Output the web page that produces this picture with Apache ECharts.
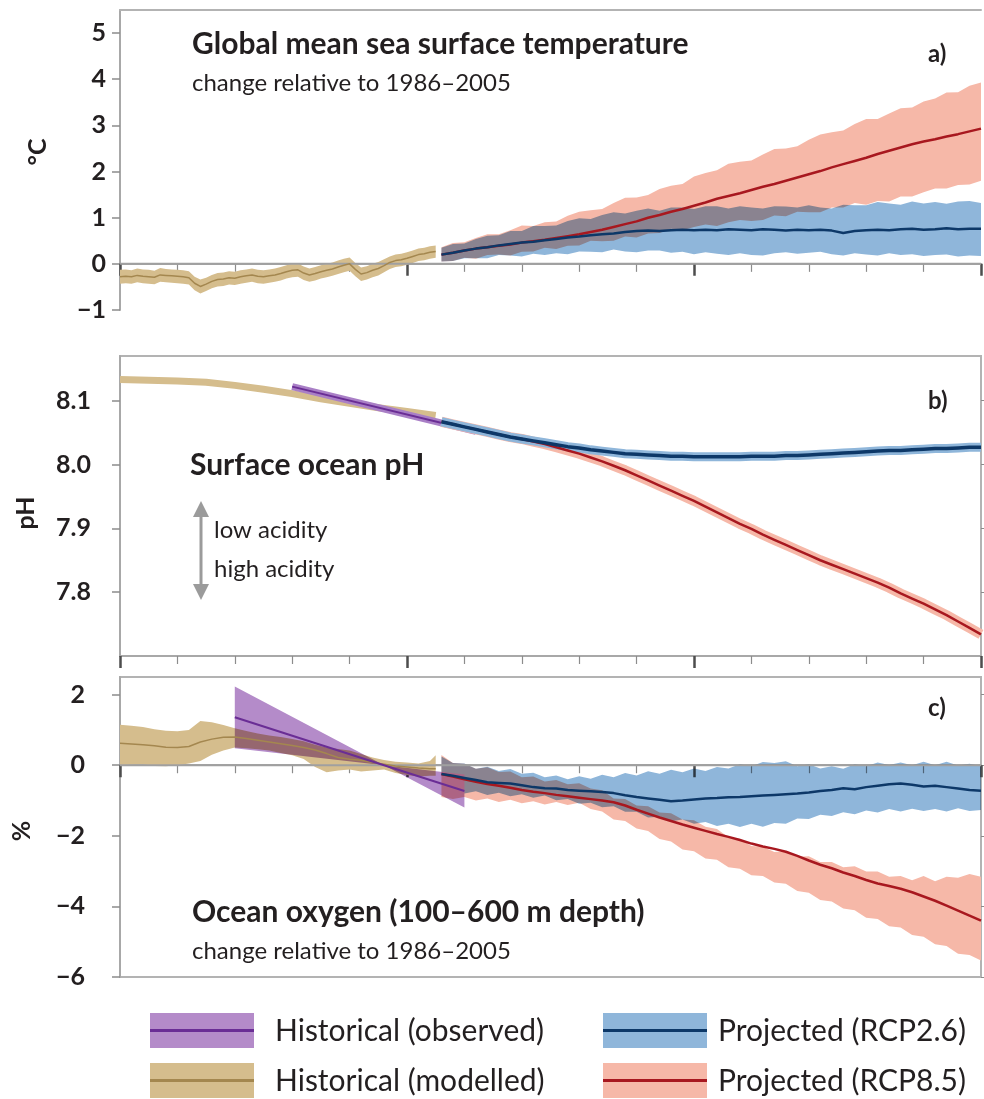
<!DOCTYPE html>
<html>
<head>
<meta charset="utf-8">
<script src="https://cdn.jsdelivr.net/npm/echarts@6/dist/echarts.min.js"></script>
<style>
  html, body { margin: 0; padding: 0; background: #ffffff; }
  #chart { width: 984px; height: 1099px; }
</style>
</head>
<body>
<div id="chart"></div>
<script>
// ---------- x values ----------
const histYears = [
  1950,1951,1952,1953,1954,1955,1956,1957,1958,1959,
  1960,1961,1962,1963,1964,1965,1966,1967,1968,1969,
  1970,1971,1972,1973,1974,1975,1976,1977,1978,1979,
  1980,1981,1982,1983,1984,1985,1986,1987,1988,1989,
  1990,1991,1992,1993,1994,1995,1996,1997,1998,1999,
  2000,2001,2002,2003,2004,2005
];
const projYears = [
  2006,2008,2010,2012,2014,2016,2018,2020,2022,2024,
  2026,2028,2030,2032,2034,2036,2038,2040,2042,2044,
  2046,2048,2050,2052,2054,2056,2058,2060,2062,2064,
  2066,2068,2070,2072,2074,2076,2078,2080,2082,2084,
  2086,2088,2090,2092,2094,2096,2098,2100
];

// ---------- a) sea surface temperature change (°C) ----------
const sstHistMean = [
  -0.28,-0.27,-0.28,-0.25,-0.27,-0.28,-0.29,-0.24,-0.25,-0.26,
  -0.27,-0.28,-0.30,-0.42,-0.49,-0.44,-0.38,-0.34,-0.33,-0.30,
  -0.31,-0.28,-0.26,-0.24,-0.27,-0.28,-0.26,-0.24,-0.21,-0.17,
  -0.14,-0.13,-0.20,-0.24,-0.21,-0.17,-0.14,-0.11,-0.07,-0.03,
   0.00,-0.12,-0.22,-0.19,-0.14,-0.10,-0.04, 0.03, 0.07, 0.09,
   0.12, 0.16, 0.20, 0.22, 0.25, 0.27
];
const sstHistHigh = [
  -0.13,-0.12,-0.14,-0.10,-0.12,-0.13,-0.15,-0.09,-0.11,-0.12,
  -0.13,-0.14,-0.16,-0.28,-0.34,-0.30,-0.24,-0.20,-0.19,-0.16,
  -0.17,-0.14,-0.12,-0.10,-0.13,-0.14,-0.12,-0.10,-0.07,-0.03,
   0.00, 0.01,-0.06,-0.10,-0.07,-0.03, 0.00, 0.03, 0.07, 0.11,
   0.14, 0.02,-0.08,-0.05, 0.00, 0.04, 0.10, 0.16, 0.20, 0.22,
   0.25, 0.29, 0.33, 0.35, 0.38, 0.40
];
const sstHistLow = [
  -0.43,-0.42,-0.43,-0.40,-0.42,-0.43,-0.44,-0.39,-0.40,-0.41,
  -0.42,-0.43,-0.45,-0.57,-0.64,-0.59,-0.53,-0.49,-0.48,-0.45,
  -0.46,-0.43,-0.41,-0.39,-0.42,-0.43,-0.41,-0.39,-0.36,-0.32,
  -0.29,-0.28,-0.35,-0.39,-0.36,-0.32,-0.29,-0.26,-0.22,-0.18,
  -0.15,-0.27,-0.37,-0.34,-0.29,-0.25,-0.18,-0.11,-0.07,-0.05,
  -0.02, 0.02, 0.06, 0.08, 0.11, 0.13
];
const sst85Mean = [
  0.20,0.24,0.29,0.33,0.36,0.39,0.42,0.46,0.49,0.52,
  0.56,0.60,0.64,0.69,0.74,0.80,0.86,0.92,1.00,1.06,
  1.13,1.19,1.26,1.33,1.41,1.47,1.53,1.60,1.67,1.73,
  1.80,1.87,1.94,2.01,2.09,2.16,2.23,2.30,2.38,2.45,
  2.52,2.59,2.65,2.70,2.76,2.81,2.87,2.93
];
const sst85High = [
  0.36,0.45,0.47,0.56,0.64,0.64,0.73,0.83,0.82,0.90,
  0.92,1.04,1.13,1.16,1.19,1.32,1.43,1.44,1.49,1.62,
  1.69,1.73,1.89,1.97,2.03,2.17,2.21,2.24,2.37,2.49,
  2.50,2.55,2.69,2.80,2.85,2.89,3.03,3.14,3.14,3.26,
  3.37,3.39,3.52,3.58,3.71,3.72,3.86,3.93
];
const sst85Low = [
  0.05,0.06,0.13,0.11,0.19,0.20,0.18,0.26,0.27,0.35,
  0.32,0.39,0.40,0.50,0.49,0.50,0.59,0.57,0.66,0.67,
  0.76,0.73,0.80,0.85,0.82,0.90,0.95,0.93,0.95,1.05,
  1.03,1.13,1.12,1.12,1.22,1.22,1.32,1.28,1.36,1.35,
  1.46,1.46,1.55,1.63,1.63,1.71,1.72,1.80
];
const sst26Mean = [
  0.20,0.24,0.29,0.33,0.36,0.40,0.43,0.46,0.48,0.51,
  0.54,0.57,0.59,0.62,0.64,0.66,0.69,0.71,0.72,0.71,
  0.73,0.74,0.73,0.74,0.73,0.75,0.74,0.73,0.75,0.74,
  0.72,0.74,0.73,0.74,0.72,0.67,0.71,0.73,0.74,0.73,
  0.75,0.76,0.74,0.75,0.77,0.75,0.76,0.76
];
const sst26High = [
  0.35,0.43,0.44,0.54,0.61,0.62,0.71,0.71,0.82,0.82,
  0.83,0.93,0.99,0.97,1.06,1.12,1.09,1.15,1.20,1.15,
  1.22,1.22,1.19,1.25,1.25,1.20,1.25,1.22,1.20,1.25,
  1.24,1.22,1.27,1.22,1.20,1.28,1.27,1.27,1.34,1.31,
  1.28,1.35,1.31,1.34,1.30,1.35,1.36,1.32
];
const sst26Low = [
  0.05,0.06,0.12,0.12,0.12,0.19,0.18,0.16,0.22,0.19,
  0.23,0.21,0.27,0.26,0.25,0.31,0.27,0.25,0.29,0.29,
  0.24,0.26,0.21,0.25,0.22,0.19,0.23,0.19,0.18,0.23,
  0.25,0.22,0.24,0.26,0.21,0.18,0.23,0.20,0.18,0.23,
  0.19,0.21,0.17,0.19,0.20,0.16,0.18,0.17
];

// ---------- b) surface ocean pH ----------
const phHistYears = [1950,1955,1960,1965,1970,1975,1980,1985,1990,1995,2000,2005];
const phHist = [8.133,8.132,8.131,8.129,8.124,8.118,8.111,8.103,8.096,8.089,8.083,8.077];
const phObsYears = [1980, 2012];
const phObs = [8.122, 8.052];
const ph85 = [
  8.067,8.063,8.059,8.055,8.051,8.047,8.043,8.040,8.036,8.032,
  8.027,8.022,8.017,8.011,8.005,7.998,7.991,7.983,7.975,7.967,
  7.959,7.951,7.943,7.934,7.925,7.916,7.907,7.899,7.890,7.882,
  7.874,7.866,7.858,7.850,7.843,7.836,7.829,7.822,7.815,7.807,
  7.798,7.790,7.782,7.773,7.764,7.754,7.744,7.734
];
const ph26 = [
  8.067,8.063,8.059,8.055,8.051,8.047,8.043,8.040,8.037,8.034,
  8.031,8.028,8.026,8.023,8.021,8.019,8.017,8.016,8.015,8.014,
  8.013,8.013,8.012,8.012,8.012,8.012,8.012,8.013,8.013,8.013,
  8.014,8.014,8.015,8.016,8.017,8.018,8.019,8.020,8.021,8.022,
  8.022,8.023,8.024,8.025,8.025,8.026,8.027,8.027
];

// ---------- c) ocean oxygen 100–600 m (%) ----------
const o2HistYears = [
  1950,1952,1954,1956,1958,1960,1962,1964,1966,1968,
  1970,1972,1974,1976,1978,1980,1982,1984,1986,1988,
  1990,1992,1994,1996,1998,2000,2002,2004,2005
];
const o2HistMean = [
  0.62,0.60,0.58,0.55,0.51,0.50,0.53,0.66,0.74,0.79,
  0.80,0.76,0.71,0.66,0.61,0.56,0.50,0.43,0.33,0.22,
  0.17,0.14,0.08,0.03,-0.02,-0.05,-0.08,-0.10,-0.10
];
const o2HistHigh = [
  1.15,1.12,1.08,1.02,0.98,0.96,1.00,1.25,1.22,1.14,
  1.05,0.97,0.90,0.84,0.80,0.74,0.68,0.58,0.50,0.46,
  0.42,0.32,0.22,0.15,0.10,0.08,0.05,0.12,0.28
];
const o2HistLow = [
  0.00,0.02,0.03,-0.02,-0.03,0.00,0.05,0.12,0.30,0.42,
  0.50,0.48,0.45,0.42,0.35,0.28,0.18,-0.05,-0.20,-0.15,
  -0.12,-0.18,-0.15,-0.12,-0.22,-0.28,-0.32,-0.30,-0.30
];
const o2ObsYears = [1970, 1996, 2010];
const o2ObsMean = [1.36, 0.00, -0.73];
const o2ObsHigh = [2.23, 0.00, -0.26];
const o2ObsLow  = [0.48, 0.00, -1.20];
const o285Mean = [
  -0.25,-0.32,-0.40,-0.47,-0.53,-0.58,-0.64,-0.70,-0.75,-0.79,
  -0.84,-0.88,-0.92,-0.96,-1.00,-1.05,-1.14,-1.26,-1.37,-1.48,
  -1.58,-1.68,-1.77,-1.86,-1.95,-2.03,-2.12,-2.22,-2.30,-2.37,
  -2.45,-2.57,-2.70,-2.82,-2.92,-3.04,-3.14,-3.25,-3.35,-3.42,
  -3.50,-3.60,-3.72,-3.84,-3.98,-4.12,-4.26,-4.40
];
const o285High = [
   0.29, 0.06, 0.04,-0.10,-0.06,-0.19,-0.18,-0.34,-0.32,-0.46,
  -0.42,-0.54,-0.51,-0.66,-0.71,-0.94,-0.96,-1.14,-1.16,-1.34,
  -1.36,-1.54,-1.56,-1.74,-1.81,-2.04,-2.08,-2.29,-2.31,-2.46,
  -2.44,-2.59,-2.58,-2.74,-2.74,-2.89,-2.86,-3.01,-3.01,-3.16,
  -3.14,-3.26,-3.14,-3.29,-3.16,-3.19,-3.08,-3.16
];
const o285Low = [
  -0.90,-0.96,-0.90,-1.00,-0.94,-1.04,-0.98,-1.08,-1.02,-1.11,
  -1.04,-1.13,-1.06,-1.24,-1.31,-1.54,-1.58,-1.79,-1.86,-2.09,
  -2.16,-2.39,-2.44,-2.64,-2.68,-2.89,-2.93,-3.12,-3.14,-3.32,
  -3.36,-3.56,-3.61,-3.82,-3.86,-4.06,-4.11,-4.32,-4.36,-4.56,
  -4.60,-4.81,-4.86,-5.07,-5.12,-5.34,-5.38,-5.53
];
const o226Mean = [
  -0.25,-0.30,-0.36,-0.42,-0.48,-0.50,-0.52,-0.57,-0.62,-0.65,
  -0.66,-0.70,-0.72,-0.74,-0.76,-0.79,-0.85,-0.90,-0.94,-0.98,
  -1.02,-1.00,-0.97,-0.94,-0.93,-0.91,-0.90,-0.88,-0.86,-0.84,
  -0.82,-0.80,-0.77,-0.73,-0.70,-0.65,-0.68,-0.62,-0.58,-0.54,
  -0.52,-0.55,-0.60,-0.58,-0.62,-0.66,-0.70,-0.72
];
const o226High = [
   0.25, 0.06, 0.05,-0.10,-0.04,-0.16,-0.11,-0.24,-0.21,-0.34,
  -0.29,-0.40,-0.31,-0.38,-0.27,-0.34,-0.22,-0.29,-0.17,-0.24,
  -0.13,-0.20,-0.09,-0.16,-0.05,-0.09, 0.03,-0.03, 0.09, 0.06,
   0.11,-0.03, 0.03,-0.09,-0.03,-0.10, 0.03,-0.03, 0.08, 0.01,
   0.08, 0.00, 0.10, 0.00, 0.10,-0.01, 0.04,-0.03
];
const o226Low = [
  -0.80,-0.74,-0.80,-0.74,-0.84,-0.78,-0.88,-0.82,-0.92,-0.86,
  -0.99,-0.96,-1.09,-1.06,-1.19,-1.16,-1.32,-1.32,-1.48,-1.46,
  -1.59,-1.54,-1.66,-1.61,-1.72,-1.66,-1.75,-1.66,-1.74,-1.64,
  -1.66,-1.51,-1.52,-1.40,-1.44,-1.33,-1.39,-1.28,-1.34,-1.24,
  -1.31,-1.23,-1.30,-1.24,-1.31,-1.22,-1.30,-1.27
];

// ---------- tick labels ----------
const sstTicks = [-1, 0, 1, 2, 3, 4, 5];
const phTicks = [7.8, 7.9, 8.0, 8.1];
const o2Ticks = [-6, -4, -2, 0, 2];

// ---------- legend ----------
const legendItems = ['Historical (observed)', 'Historical (modelled)', 'Projected (RCP2.6)', 'Projected (RCP8.5)'];

// ---------- colours ----------
const C = {
  tanBand: '#d5bd8d', tanLine: '#a4874f',
  purpleBand: '#b48bc9', purpleLine: '#6a2d95',
  blueBand: '#8fb6da', blueLine: '#0d3868',
  redBand: '#f6b8a8', redLine: '#a8181f',
  axis: '#a8a8a8', tick: '#8c8c8c', major: '#4d4d4d', text: '#231f20'
};
const FONT = 'Lato';
// layers: 0 = axes and opaque envelopes, 1 = multiplied envelopes, 2 = lines
const BLEND_LAYER = 1, LINE_LAYER = 2;

const chart = echarts.init(document.getElementById('chart'), null, { renderer: 'canvas' });

// Filled uncertainty envelope drawn as one polygon through the axis scales
function band(p, years, low, high, fill, multiply, z) {
  return {
    type: 'custom', xAxisIndex: p, yAxisIndex: p, silent: true, z: z,
    zlevel: multiply ? BLEND_LAYER : 0,
    data: [[years[0], low[0]]],
    renderItem: function (params, api) {
      const pts = [];
      for (let i = 0; i < years.length; i++) pts.push(api.coord([years[i], high[i]]));
      for (let i = years.length - 1; i >= 0; i--) pts.push(api.coord([years[i], low[i]]));
      return { type: 'polygon', shape: { points: pts }, style: { fill: fill } };
    }
  };
}
function line(p, years, vals, color, width, z) {
  return {
    type: 'line', xAxisIndex: p, yAxisIndex: p, silent: true, z: z, zlevel: LINE_LAYER,
    data: years.map((y, i) => [y, vals[i]]),
    showSymbol: false, symbol: 'none',
    lineStyle: { color: color, width: width, cap: 'butt', join: 'round' }
  };
}
function zeroLine(p) {
  return {
    type: 'line', xAxisIndex: p, yAxisIndex: p, silent: true, z: 1, zlevel: LINE_LAYER,
    data: [[1950, 0], [2100, 0]], showSymbol: false, symbol: 'none',
    lineStyle: { color: '#a0a0a0', width: 2 }
  };
}

const minus = v => (v < 0 ? '\u2212' + Math.abs(v) : String(v));

const grids = [
  { left: 120, top: 10, width: 861, height: 300 },
  { left: 120, top: 356, width: 861, height: 300, show: true, borderColor: '#b3b3b3', borderWidth: 2 },
  { left: 120, top: 677, width: 861, height: 300, show: true, borderColor: '#b3b3b3', borderWidth: 2 }
];

// decade ticks as minor ticks, half-century ticks heavier
const xBottom = [0, 1, 2].map(g => ({
  type: 'value', gridIndex: g, position: 'bottom', min: 1950, max: 2100, interval: 50,
  axisLine: { show: true, lineStyle: { color: C.axis, width: 2 } },
  axisTick: { show: true, length: 12, lineStyle: { color: C.major, width: 2.5 } },
  minorTick: { show: true, splitNumber: 5, length: 8, lineStyle: { color: C.tick, width: 1.2 } },
  axisLabel: { show: false }, splitLine: { show: false }, minorSplitLine: { show: false }
}));
const xTopA = {
  type: 'value', gridIndex: 0, position: 'top', min: 1950, max: 2100,
  axisLine: { show: true, lineStyle: { color: '#b3b3b3', width: 2 } },
  axisTick: { show: false }, axisLabel: { show: false }, splitLine: { show: false }
};

function yLeft(g, min, max, interval, ticks, margin, fmt) {
  return {
    type: 'value', gridIndex: g, position: 'left', min: min, max: max, interval: interval,
    axisLine: { show: true, lineStyle: { color: C.axis, width: 2 } },
    axisTick: { show: true, length: 8, lineStyle: { color: C.tick, width: 1.5 }, customValues: ticks },
    axisLabel: {
      customValues: ticks, margin: margin, formatter: fmt,
      color: C.text, fontFamily: FONT, fontWeight: 'bold', fontSize: 25
    },
    splitLine: { show: false }
  };
}
function yRight(g, min, max, interval, ticks) {
  return {
    type: 'value', gridIndex: g, position: 'right', min: min, max: max, interval: interval,
    axisLine: { show: true, lineStyle: { color: '#b3b3b3', width: 2 } },
    axisTick: { show: true, length: 3, lineStyle: { color: C.tick, width: 1 }, customValues: ticks },
    axisLabel: { show: false }, splitLine: { show: false }
  };
}

const yAxes = [
  yLeft(0, -1, 5.5, 1, sstTicks, 14, minus),
  yLeft(1, 7.7, 8.17, 0.1, phTicks, 29, v => v.toFixed(1)),
  yLeft(2, -6, 2.5, 2, o2Ticks, 35, minus),
  yRight(1, 7.7, 8.17, 0.1, phTicks),
  yRight(2, -6, 2.5, 2, o2Ticks)
];

const series = [
  // a) temperature
  zeroLine(0),
  band(0, histYears, sstHistLow, sstHistHigh, C.tanBand, false, 2),
  line(0, histYears, sstHistMean, C.tanLine, 1.5, 3),
  band(0, projYears, sst85Low, sst85High, C.redBand, false, 4),
  band(0, projYears, sst26Low, sst26High, C.blueBand, true, 5),
  line(0, projYears, sst85Mean, C.redLine, 2.5, 6),
  line(0, projYears, sst26Mean, C.blueLine, 2.5, 7),
  // b) pH
  line(1, phHistYears, phHist, C.tanBand, 7, 2),
  line(1, phObsYears, phObs, '#a97fc6', 7, 3),
  line(1, phObsYears, phObs, C.purpleLine, 2, 4),
  line(1, projYears, ph85, C.redBand, 10, 5),
  line(1, projYears, ph26, C.blueBand, 9, 6),
  line(1, projYears, ph85, C.redLine, 2.5, 7),
  line(1, projYears, ph26, C.blueLine, 3.5, 8),
  // c) oxygen
  zeroLine(2),
  band(2, o2HistYears, o2HistLow, o2HistHigh, C.tanBand, false, 2),
  line(2, o2HistYears, o2HistMean, C.tanLine, 1.5, 3),
  band(2, projYears, o285Low, o285High, C.redBand, false, 4),
  band(2, projYears, o226Low, o226High, C.blueBand, true, 5),
  band(2, o2ObsYears, o2ObsLow, o2ObsHigh, C.purpleBand, true, 6),
  line(2, projYears, o285Mean, C.redLine, 2.5, 7),
  line(2, projYears, o226Mean, C.blueLine, 2.5, 8),
  line(2, o2ObsYears, o2ObsMean, C.purpleLine, 2, 9)
];

// ---------- annotations ----------
function txt(text, x, y, font, rotation) {
  return {
    type: 'text', x: x, y: y, silent: true, z: 100, rotation: rotation || 0,
    style: { text: text, font: font, fill: C.text, align: rotation ? 'center' : 'left', verticalAlign: 'middle' }
  };
}
const bold30 = 'bold 30px ' + FONT;
const reg24 = '24px ' + FONT;
const graphics = [
  txt('Global mean sea surface temperature', 192, 44, bold30),
  txt('change relative to 1986\u20132005', 192, 83, reg24),
  txt('a)', 928, 54, 'bold 24px ' + FONT),
  txt('Surface ocean pH', 190, 465, bold30),
  txt('b)', 928, 401, 'bold 24px ' + FONT),
  txt('low acidity', 214, 530, '24px ' + FONT),
  txt('high acidity', 214, 569, '24px ' + FONT),
  txt('Ocean oxygen (100\u2013600 m depth)', 192, 912, bold30),
  txt('change relative to 1986\u20132005', 192, 951, reg24),
  txt('c)', 928, 708, 'bold 24px ' + FONT),
  // axis names
  txt('\u00B0C', 38, 152, 'bold 25px ' + FONT, Math.PI / 2),
  txt('pH', 26, 513, 'bold 25px ' + FONT, Math.PI / 2),
  txt('%', 22, 831, 'bold 25px ' + FONT, Math.PI / 2),
  // acidity arrow
  { type: 'line', silent: true, z: 100, shape: { x1: 201, y1: 512, x2: 201, y2: 590 }, style: { stroke: '#9b9b9b', lineWidth: 3 } },
  { type: 'polygon', silent: true, z: 100, shape: { points: [[201, 501], [193, 517], [209, 517]] }, style: { fill: '#9b9b9b' } },
  { type: 'polygon', silent: true, z: 100, shape: { points: [[201, 600], [193, 584], [209, 584]] }, style: { fill: '#9b9b9b' } }
];

// legend swatches: light envelope with the central line
const legendPos = [
  { x: 150, y: 1013, tx: 275, fill: C.purpleBand, stroke: C.purpleLine },
  { x: 150, y: 1063, tx: 275, fill: C.tanBand, stroke: C.tanLine },
  { x: 603, y: 1013, tx: 718, fill: C.blueBand, stroke: C.blueLine },
  { x: 603, y: 1063, tx: 718, fill: C.redBand, stroke: C.redLine }
];
legendItems.forEach((name, i) => {
  const p = legendPos[i];
  graphics.push({ type: 'rect', silent: true, shape: { x: p.x, y: p.y, width: 104, height: 35 }, style: { fill: p.fill } });
  graphics.push({ type: 'line', silent: true, shape: { x1: p.x, y1: p.y + 17.5, x2: p.x + 104, y2: p.y + 17.5 }, style: { stroke: p.stroke, lineWidth: 3 } });
  graphics.push(txt(name, p.tx, p.y + 18, '30px ' + FONT));
});

chart.setOption({
  backgroundColor: '#ffffff',
  animation: false,
  grid: grids,
  xAxis: xBottom.concat([xTopA]),
  yAxis: yAxes,
  series: series,
  graphic: graphics
});

// overlapping envelopes mix like printed inks: multiply their layer onto the page
function setBlend() {
  const layer = document.querySelector('#chart canvas[data-zr-dom-id="zr_' + BLEND_LAYER + '"]');
  if (layer) layer.style.mixBlendMode = 'multiply';
}
setBlend();
chart.on('finished', setBlend);
</script>
</body>
</html>
